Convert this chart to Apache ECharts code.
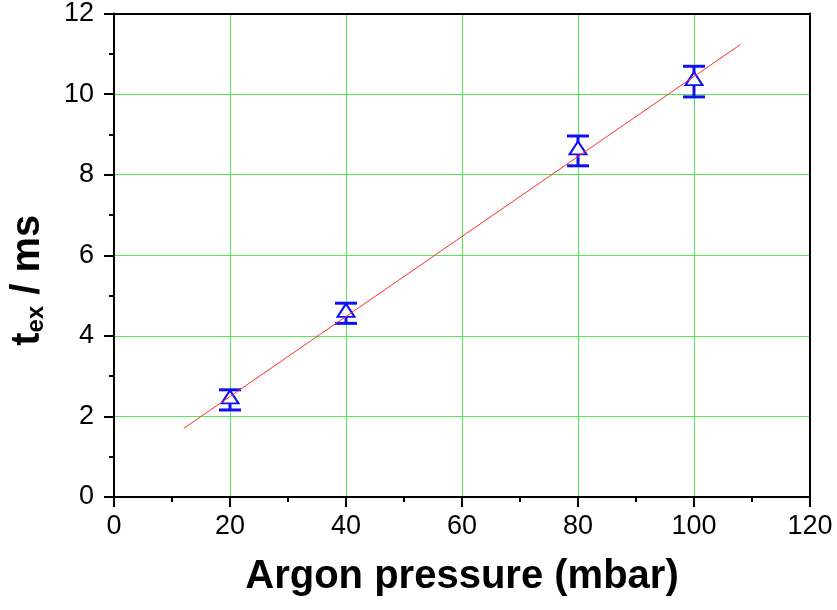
<!DOCTYPE html>
<html>
<head>
<meta charset="utf-8">
<script src="https://cdn.jsdelivr.net/npm/echarts@6/dist/echarts.min.js"></script>
<style>
  html, body { margin: 0; padding: 0; background: #fff; }
  #chart { width: 837px; height: 610px; }
</style>
</head>
<body>
<div id="chart"></div>
<script>
// Measured excitation time vs. argon pressure
const pressure = [20, 40, 80, 100];          // mbar
const tex = [2.41, 4.56, 8.59, 10.31];       // ms
const texErr = [0.25, 0.25, 0.37, 0.38];     // ms, symmetric error

// Linear fit drawn between its two end points
const fitX = [12, 108];
const fitY = [1.70, 11.23];

const FONT = 'Liberation Sans, Arial, sans-serif';
const BLUE = '#1010f0';
const GRID_GREEN = '#55e855';

const points = pressure.map((p, i) => [p, tex[i]]);
const errData = pressure.map((p, i) => [p, tex[i] - texErr[i], tex[i] + texErr[i]]);
const fitData = fitX.map((x, i) => [x, fitY[i]]);

const chart = echarts.init(document.getElementById('chart'), null, { renderer: 'canvas' });

const axisCommon = {
  type: 'value',
  axisLine: { show: true, onZero: false, lineStyle: { color: '#000', width: 2 } },
  axisTick: { show: true, inside: false, length: 10, lineStyle: { color: '#000', width: 2 } },
  minorTick: { show: true, splitNumber: 2, length: 5, lineStyle: { color: '#000', width: 2 } },
  splitLine: { show: true, lineStyle: { color: GRID_GREEN, width: 1 } },
  axisLabel: { color: '#000', fontFamily: FONT, fontSize: 27 }
};

const frameAxis = {
  type: 'value',
  axisLine: { show: true, onZero: false, lineStyle: { color: '#000', width: 2 } },
  axisTick: { show: false },
  axisLabel: { show: false },
  splitLine: { show: false }
};

chart.setOption({
  animation: false,
  backgroundColor: '#fff',
  grid: { left: 114, right: 27, top: 13, bottom: 113 },
  xAxis: [
    Object.assign({}, axisCommon, {
      min: 0, max: 120, interval: 20,
      axisLabel: Object.assign({}, axisCommon.axisLabel, { margin: 16 }),
      name: 'Argon pressure (mbar)',
      nameLocation: 'middle',
      nameGap: 60,
      nameTextStyle: { color: '#000', fontFamily: FONT, fontSize: 40, fontWeight: 'bold' }
    }),
    Object.assign({}, frameAxis, { position: 'top', min: 0, max: 120 })
  ],
  yAxis: [
    Object.assign({}, axisCommon, {
      min: 0, max: 12, interval: 2,
      axisLabel: Object.assign({}, axisCommon.axisLabel, { margin: 20 }),
      name: '{t|t}{sub|ex}{t| / ms}',
      nameLocation: 'middle',
      nameRotate: 90,
      nameGap: 66,
      nameTextStyle: {
        color: '#000',
        padding: [0, 50, 0, 0],
        rich: {
          t: { fontFamily: FONT, fontSize: 40, fontWeight: 'bold', lineHeight: 40, color: '#000' },
          sub: { fontFamily: FONT, fontSize: 24, fontWeight: 'bold', lineHeight: 5, verticalAlign: 'bottom', color: '#000' }
        }
      }
    }),
    Object.assign({}, frameAxis, { position: 'right', min: 0, max: 12 })
  ],
  series: [
    {
      name: 'error',
      type: 'custom',
      xAxisIndex: 0, yAxisIndex: 0,
      data: errData,
      z: 3,
      renderItem: function (params, api) {
        const x = api.value(0);
        const lo = api.coord([x, api.value(1)]);
        const hi = api.coord([x, api.value(2)]);
        const half = 11;
        const style = { stroke: BLUE, lineWidth: 3, fill: null };
        return {
          type: 'group',
          children: [
            { type: 'line', shape: { x1: lo[0], y1: lo[1], x2: hi[0], y2: hi[1] }, style: style },
            { type: 'line', shape: { x1: lo[0] - half, y1: lo[1], x2: lo[0] + half, y2: lo[1] }, style: style },
            { type: 'line', shape: { x1: hi[0] - half, y1: hi[1], x2: hi[0] + half, y2: hi[1] }, style: style }
          ]
        };
      }
    },
    {
      name: 't_ex',
      type: 'scatter',
      data: points,
      symbol: 'triangle',
      symbolSize: [17, 13],
      symbolOffset: [0, -3],
      z: 4,
      itemStyle: { color: '#fff', borderColor: BLUE, borderWidth: 2, opacity: 1 }
    },
    {
      name: 'fit',
      type: 'line',
      data: fitData,
      showSymbol: false,
      symbol: 'none',
      z: 5,
      lineStyle: { color: '#ff3030', width: 1 }
    }
  ]
});
</script>
</body>
</html>
